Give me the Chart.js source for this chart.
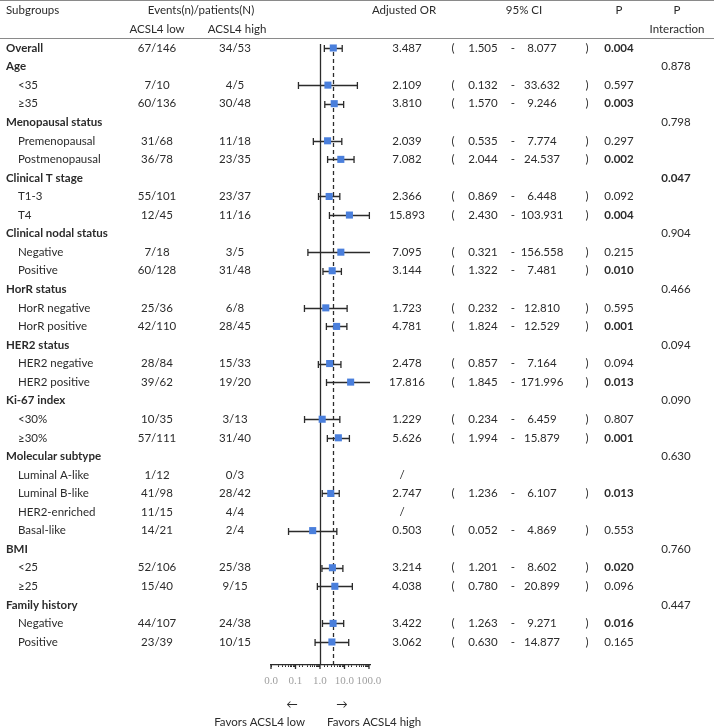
<!DOCTYPE html>
<html>
<head>
<meta charset="utf-8">
<script src="https://cdn.jsdelivr.net/npm/chart.js@4.4.1/dist/chart.umd.min.js"></script>
<style>
  html, body { margin: 0; padding: 0; background: #fff; }
  #wrap { width: 714px; height: 728px; position: relative; }
</style>
</head>
<body>
<div id="wrap"><canvas id="forest"></canvas></div>
<script>
// rows of the table, top to bottom
const labels = ['Overall', 'Age', '<35', '\u226535', 'Menopausal status', 'Premenopausal', 'Postmenopausal',
  'Clinical T stage', 'T1-3', 'T4', 'Clinical nodal status', 'Negative', 'Positive',
  'HorR status', 'HorR negative', 'HorR positive', 'HER2 status', 'HER2 negative', 'HER2 positive',
  'Ki-67 index', '<30%', '\u226530%', 'Molecular subtype', 'Luminal A-like', 'Luminal B-like',
  'HER2-enriched', 'Basal-like', 'BMI', '<25', '\u226525', 'Family history', 'Negative', 'Positive'];
const isGroup = [1, 1, 0, 0, 1, 0, 0, 1, 0, 0, 1, 0, 0, 1, 0, 0, 1, 0, 0, 1, 0, 0, 1, 0, 0, 0, 0, 1, 0, 0, 1, 0, 0];
const lowN = ['67/146', '', '7/10', '60/136', '', '31/68', '36/78', '', '55/101', '12/45', '', '7/18', '60/128',
  '', '25/36', '42/110', '', '28/84', '39/62', '', '10/35', '57/111', '', '1/12', '41/98', '11/15', '14/21',
  '', '52/106', '15/40', '', '44/107', '23/39'];
const highN = ['34/53', '', '4/5', '30/48', '', '11/18', '23/35', '', '23/37', '11/16', '', '3/5', '31/48',
  '', '6/8', '28/45', '', '15/33', '19/20', '', '3/13', '31/40', '', '0/3', '28/42', '4/4', '2/4',
  '', '25/38', '9/15', '', '24/38', '10/15'];
const oddsRatio = [3.487, null, 2.109, 3.810, null, 2.039, 7.082, null, 2.366, 15.893, null, 7.095, 3.144,
  null, 1.723, 4.781, null, 2.478, 17.816, null, 1.229, 5.626, null, null, 2.747, null, 0.503,
  null, 3.214, 4.038, null, 3.422, 3.062];
const ciLow = [1.505, null, 0.132, 1.570, null, 0.535, 2.044, null, 0.869, 2.430, null, 0.321, 1.322,
  null, 0.232, 1.824, null, 0.857, 1.845, null, 0.234, 1.994, null, null, 1.236, null, 0.052,
  null, 1.201, 0.780, null, 1.263, 0.630];
const ciHigh = [8.077, null, 33.632, 9.246, null, 7.774, 24.537, null, 6.448, 103.931, null, 156.558, 7.481,
  null, 12.810, 12.529, null, 7.164, 171.996, null, 6.459, 15.879, null, null, 6.107, null, 4.869,
  null, 8.602, 20.899, null, 9.271, 14.877];
const pValue = ['0.004', '', '0.597', '0.003', '', '0.297', '0.002', '', '0.092', '0.004', '', '0.215', '0.010',
  '', '0.595', '0.001', '', '0.094', '0.013', '', '0.807', '0.001', '', '', '0.013', '', '0.553',
  '', '0.020', '0.096', '', '0.016', '0.165'];
const pInteraction = ['', '0.878', '', '', '0.798', '', '', '0.047', '', '', '0.904', '', '',
  '0.466', '', '', '0.094', '', '', '0.090', '', '', '0.630', '', '', '', '',
  '0.760', '', '', '0.447', '', ''];
const noEstimate = [23, 25]; // rows shown with "/"
const xTicks = [0.01, 0.1, 1, 10, 100];

const FONT = 'Lato, "Noto Sans", sans-serif';
const INK = '#2b2b2b';

const fmt = v => v.toFixed(3);

const forestPlugin = {
  id: 'forest',
  beforeDatasetsDraw(chart) {
    const { ctx, chartArea: a, scales: { x, y } } = chart;
    ctx.save();
    ctx.beginPath();
    ctx.rect(a.left, a.top - 10, a.right - a.left + 0.5, a.bottom - a.top + 10);
    ctx.clip();
    ctx.strokeStyle = INK;
    ctx.lineWidth = 1.3;
    // line of no effect
    const x1 = Math.round(x.getPixelForValue(1)) + 0.5;
    ctx.beginPath();
    ctx.moveTo(x1, a.top);
    ctx.lineTo(x1, a.bottom);
    ctx.stroke();
    // overall estimate
    const xo = Math.round(x.getPixelForValue(oddsRatio[0])) + 0.5;
    ctx.setLineDash([4, 3]);
    ctx.beginPath();
    ctx.moveTo(xo, a.top + 8);
    ctx.lineTo(xo, a.bottom);
    ctx.stroke();
    ctx.setLineDash([]);
    // confidence intervals
    ciLow.forEach((lo, i) => {
      if (lo == null) return;
      const hi = ciHigh[i];
      const yp = Math.round(y.getPixelForValue(i)) + 0.5;
      const xl = x.getPixelForValue(lo);
      const xh = x.getPixelForValue(hi);
      ctx.beginPath();
      ctx.moveTo(Math.max(xl, a.left), yp);
      ctx.lineTo(Math.min(xh, a.right), yp);
      if (xl >= a.left) { ctx.moveTo(xl, yp - 3.5); ctx.lineTo(xl, yp + 3.5); }
      if (xh <= a.right) { ctx.moveTo(xh, yp - 3.5); ctx.lineTo(xh, yp + 3.5); }
      ctx.stroke();
    });
    ctx.restore();
  },
  afterDraw(chart) {
    const { ctx, chartArea: a, scales: { x, y } } = chart;
    ctx.save();
    // header rules
    ctx.strokeStyle = '#8a8a8a';
    ctx.lineWidth = 1;
    ctx.beginPath();
    ctx.moveTo(0, 0.5); ctx.lineTo(714, 0.5);
    ctx.moveTo(0, 38.5); ctx.lineTo(714, 38.5);
    ctx.stroke();

    // taller decade ticks
    ctx.strokeStyle = INK;
    ctx.lineWidth = 1.3;
    ctx.beginPath();
    xTicks.forEach(v => {
      const px = x.getPixelForValue(v);
      ctx.moveTo(px, a.bottom); ctx.lineTo(px, a.bottom + 4);
    });
    ctx.stroke();

    ctx.textBaseline = 'middle';
    const put = (txt, px, py, align, bold) => {
      if (!txt) return;
      ctx.font = (bold ? 'bold ' : '') + '11.5px ' + FONT;
      ctx.textAlign = align;
      ctx.fillText(txt, px, py);
    };
    ctx.fillStyle = INK;

    // column headings
    const h1 = y.getPixelForValue(-2.05), h2 = y.getPixelForValue(-1.02);
    put('Subgroups', 6, h1, 'left');
    put('Events(n)/patients(N)', 201, h1, 'center');
    put('Adjusted OR', 404, h1, 'center');
    put('95% CI', 524, h1, 'center');
    put('P', 619, h1, 'center');
    put('P', 677, h1, 'center');
    put('ACSL4 low', 157, h2, 'center');
    put('ACSL4 high', 237, h2, 'center');
    put('Interaction', 677, h2, 'center');

    labels.forEach((lab, i) => {
      const py = y.getPixelForValue(i);
      put(lab, isGroup[i] ? 6 : 18, py, 'left', isGroup[i]);
      put(lowN[i], 157, py, 'center');
      put(highN[i], 235, py, 'center');
      if (oddsRatio[i] != null) {
        put(fmt(oddsRatio[i]), 407, py, 'center');
        put('(', 453, py, 'center');
        put(fmt(ciLow[i]), 483, py, 'center');
        put('-', 513, py, 'center');
        put(fmt(ciHigh[i]), 542, py, 'center');
        put(')', 587, py, 'center');
      }
      if (noEstimate.includes(i)) put('/', 402, py, 'center');
      put(pValue[i], 619, py, 'center', pValue[i] && parseFloat(pValue[i]) < 0.05);
      put(pInteraction[i], 676, py, 'center', pInteraction[i] && parseFloat(pInteraction[i]) < 0.05);
    });

    // direction notes under the axis
    const xc = x.getPixelForValue(1);
    put('\u2190', xc - 28, 704, 'center');
    put('\u2192', xc + 22, 704, 'center');
    put('Favors ACSL4 low', xc - 15, 722, 'right');
    put('Favors ACSL4 high', xc + 7, 722, 'left');
    ctx.restore();
  }
};

const rowsWithOR = oddsRatio.map((v, i) => (v == null ? null : { x: v, y: i })).filter(d => d);

new Chart(document.getElementById('forest'), {
  type: 'scatter',
  data: {
    datasets: [{
      data: rowsWithOR,
      pointStyle: 'rect',
      pointRadius: 5,
      pointHoverRadius: 5,
      pointBorderWidth: 0,
      backgroundColor: '#4a7fdc',
      borderColor: '#4a7fdc'
    }]
  },
  options: {
    responsive: true,
    maintainAspectRatio: false,
    animation: false,
    events: [],
    layout: { padding: { left: 271, right: 344, top: 44, bottom: 0 } },
    plugins: { legend: { display: false }, tooltip: { enabled: false } },
    scales: {
      x: {
        type: 'logarithmic',
        min: 0.01,
        max: 110,
        afterBuildTicks: scale => {
          scale.ticks = scale.ticks.filter(t => t.value <= 100.0001);
        },
        afterFit: scale => { scale.height = 63; },
        grid: { drawOnChartArea: false, tickLength: 2, color: INK, lineWidth: 1 },
        border: { display: true, color: INK, width: 1.3 },
        ticks: {
          autoSkip: false,
          maxRotation: 0,
          padding: 8,
          color: '#a0a0a0',
          font: { family: '"Liberation Serif", serif', size: 11 },
          callback: v => (xTicks.some(t => Math.abs(t - v) < 1e-9) ? Number(v).toFixed(1) : '')
        }
      },
      y: {
        type: 'linear',
        display: false,
        reverse: true,
        min: -0.215,
        max: 33.24
      }
    }
  },
  plugins: [forestPlugin]
});
</script>
</body>
</html>
